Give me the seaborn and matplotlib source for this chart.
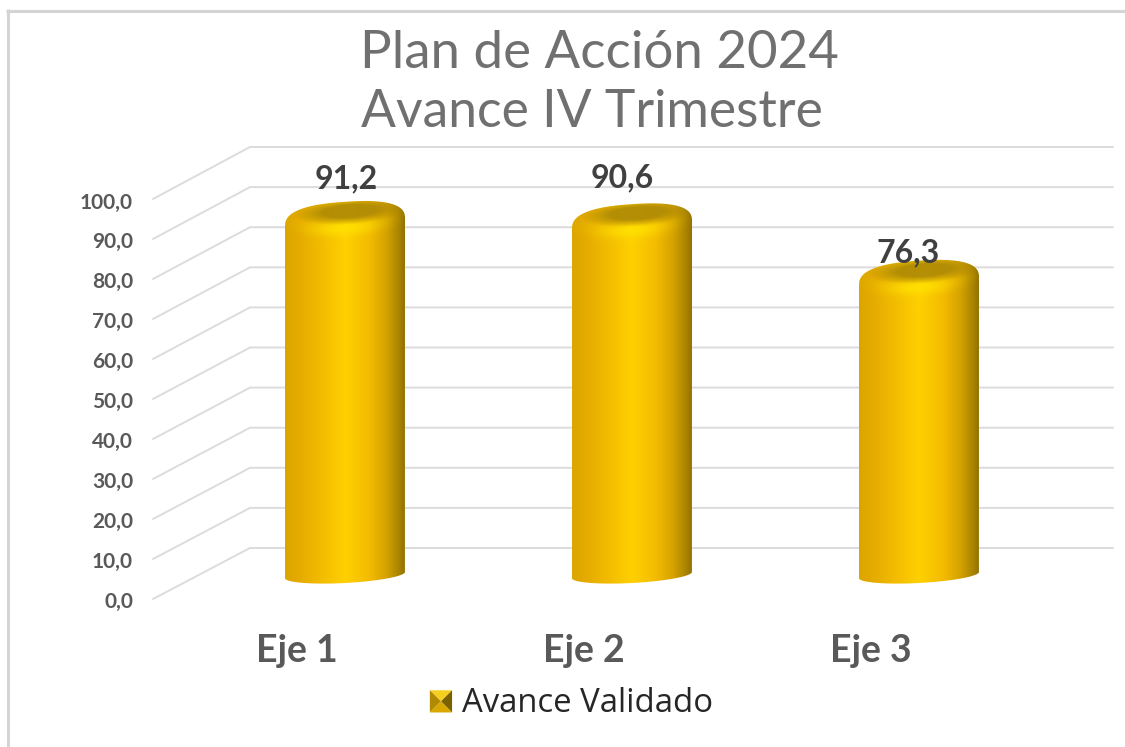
import numpy as np
import pandas as pd
import matplotlib
matplotlib.use('Agg')
import matplotlib.pyplot as plt
import seaborn as sns
from matplotlib.colors import to_rgb
from matplotlib.legend_handler import HandlerBase
from matplotlib.patches import Patch, PathPatch, Polygon
from matplotlib.path import Path
from matplotlib.transforms import ScaledTranslation

# Data
categories = ['Eje 1', 'Eje 2', 'Eje 3']
avance = [91.2, 90.6, 76.3]
value_labels = ['91,2', '90,6', '76,3']
tick_values = [0, 10, 20, 30, 40, 50, 60, 70, 80, 90, 100]
tick_labels = ['0,0', '10,0', '20,0', '30,0', '40,0', '50,0', '60,0', '70,0', '80,0', '90,0', '100,0']
title_lines = ['Plan de Acción 2024', 'Avance IV Trimestre']
legend_label = 'Avance Validado'

# label nudges in pixels, the labels do not sit centred on the bars
label_dx = [1, -10, -11]
label_dy = [29, 33, 14]

W, H = 1125, 747
GREY = '#595959'
GRID = '#dcdcdc'

sns.set_theme(style='white')
plt.rcParams['font.family'] = ['Lato', 'DejaVu Sans']

fig = plt.figure(figsize=(W / 100, H / 100), dpi=100, facecolor='white')

# background axes in pixel units, for the fake 3D walls
bg = fig.add_axes([0, 0, 1, 1], zorder=0)
bg.set_xlim(0, W)
bg.set_ylim(H, 0)
bg.axis('off')
bg.plot([7.5, 7.5], [9, H], color='#d4d4d4', lw=2.2, solid_capstyle='butt')
bg.plot([6, W], [10.5, 10.5], color='#d4d4d4', lw=2.2, solid_capstyle='butt')

for v, lab in zip(tick_values, tick_labels):
    front = 599 - 4.0 * v
    back = 548 - 4.01 * v
    bg.plot([153, 250, 1113], [front, back, back], color=GRID, lw=1.4, solid_joinstyle='miter')
    bg.text(133, 599.5 - 3.99 * v, lab, ha='right', va='center_baseline', fontsize=15, fontweight='bold', color=GREY)

bg.text(599, 68, title_lines[0], ha='center', va='baseline', fontsize=38, color='#707070')
bg.text(592, 127, title_lines[1], ha='center', va='baseline', fontsize=37.2, color='#707070')

# bar axes: 0 sits at pixel 578, 3.95 px per unit, 287 px per category
# the axes reach a bit below 0 so the round foot of the bars is not cut
px_y, px_x = 3.95, 287.0
y_low = -5.0
left, right = 345 - 0.5 * px_x, 919 + 0.5 * px_x
bottom, top = 578 - y_low * px_y, 578 - 100 * px_y
ax = fig.add_axes([left / W, 1 - bottom / H, (right - left) / W, (bottom - top) / H], zorder=1)
ax.patch.set_alpha(0)

df = pd.DataFrame({'eje': categories, 'avance': avance})
sns.barplot(data=df, x='eje', y='avance', width=120 / px_x, color='#f0b400', ax=ax)
ax.set_xlim(-0.5, 2.5)
ax.set_ylim(y_low, 100)
ax.set_xlabel('')
ax.set_ylabel('')
ax.set_yticks([])
ax.tick_params(axis='x', length=0, pad=40 + y_low * px_y * 0.72)
ax.set_xticks(range(3), categories, fontsize=27, fontweight='bold', color=GREY)
for tl in ax.get_xticklabels():
    tl.set_transform(tl.get_transform() + ScaledTranslation(-48 / 100, 0, fig.dpi_scale_trans))
sns.despine(ax=ax, left=True, bottom=True)

# horizontal shading of the cylinder
stops_u = [0.0, 0.1, 0.3, 0.5, 0.7, 0.85, 0.95, 1.0]
stops_c = np.array([to_rgb(c) for c in ['#dba600', '#e4aa00', '#f2bc00', '#ffd000', '#f4bc00', '#d4a200', '#ab8500', '#937200']])
HALF_W, TILT = 60.0, 4.0 / 60.0


def cylinder_image(height_px):
    # RGB array in pixel offsets from the top centre of the bar
    ys = np.arange(-22, height_px + 12)
    xs = np.arange(-HALF_W, HALF_W + 1)
    X, Y = np.meshgrid(xs, ys)
    u = (X + HALF_W) / (2 * HALF_W)
    img = np.dstack([np.interp(u, stops_u, stops_c[:, k]) for k in range(3)])
    Yt = Y + X * TILT
    # bright shoulder just under the cap
    lower = 10 * np.clip(1 - np.abs(X / HALF_W) ** 3, 0, 1)
    d = Yt - lower
    glow = np.exp(-(d / 7.0) ** 2) * np.exp(-(X / 34.0) ** 2)
    img = img + glow[..., None] * (np.array(to_rgb('#ffe600')) - img) * 0.7
    # darker top surface inside the cap
    e = np.sqrt(((X - 5) / 50.0) ** 2 + ((Yt + 7) / 11.5) ** 2)
    cap = np.clip((1.15 - e) / 0.6, 0, 1)
    img = img + cap[..., None] * (np.array(to_rgb('#ae8a06')) - img) * 0.92
    return np.clip(img, 0, 1), xs, ys


def cylinder_path(cx, value):
    # outline in data units: rounded top, lower half of the bottom ellipse
    t = np.linspace(np.pi, 0, 80)
    x_up = HALF_W * np.sign(np.cos(t)) * np.abs(np.cos(t)) ** 0.8
    y_up = -5 + 21 * np.abs(np.sin(t)) ** 0.75 + x_up * TILT
    t = np.linspace(0, -np.pi, 60)
    x_lo = HALF_W * np.cos(t)
    y_lo = 3 + 8.0 * np.sin(t) + x_lo * np.tan(np.radians(3))
    xx = np.r_[x_up, x_lo] / px_x + cx
    yy = np.r_[value + y_up / px_y, y_lo / px_y]
    return Path(np.c_[xx, yy])


bars = list(ax.patches)
for bar, val, lab, dx, dy in zip(bars, avance, value_labels, label_dx, label_dy):
    cx = bar.get_x() + bar.get_width() / 2
    bar.set_visible(False)
    img, xs, ys = cylinder_image(val * px_y)
    im = ax.imshow(img, origin='upper', aspect='auto', interpolation='bilinear', zorder=2,
                   extent=[cx - HALF_W / px_x, cx + HALF_W / px_x, val - ys[-1] / px_y, val - ys[0] / px_y])
    clip = PathPatch(cylinder_path(cx, val), transform=ax.transData, fc='none', ec='none')
    ax.add_patch(clip)
    im.set_clip_path(clip)
    ax.text(cx + dx / px_x, val + dy / px_y, lab, ha='center', va='baseline', fontsize=23, fontweight='bold',
            color='#404040', zorder=3)
ax.set_xlim(-0.5, 2.5)
ax.set_ylim(y_low, 100)


class BevelHandler(HandlerBase):
    # small pyramid-like legend key
    def create_artists(self, legend, orig_handle, xd, yd, width, height, fontsize, trans):
        s = 16
        x0, y0 = width - s, (height - s) / 2 - 1
        c = (x0 + s / 2, y0 + s / 2)
        a, b, d, e = (x0, y0), (x0 + s, y0), (x0 + s, y0 + s), (x0, y0 + s)
        faces = [([e, d, c], '#f5cf20'), ([a, e, c], '#b08a00'), ([b, d, c], '#7a6200'), ([a, b, c], '#d9a800')]
        return [Polygon(p, closed=True, fc=col, ec='none', transform=trans) for p, col in faces]


leg = ax.legend(handles=[Patch(label=legend_label)], handler_map={Patch: BevelHandler()}, loc='center',
                bbox_to_anchor=((571 - left) / (right - left), (bottom - 703) / (bottom - top)),
                frameon=False, fontsize=23.7, labelcolor='#262626', handlelength=0.7, handletextpad=0.3)
for t in leg.get_texts():
    t.set_fontfamily(['Open Sans', 'DejaVu Sans'])

fig.savefig('out.png', dpi=100, facecolor='white')
